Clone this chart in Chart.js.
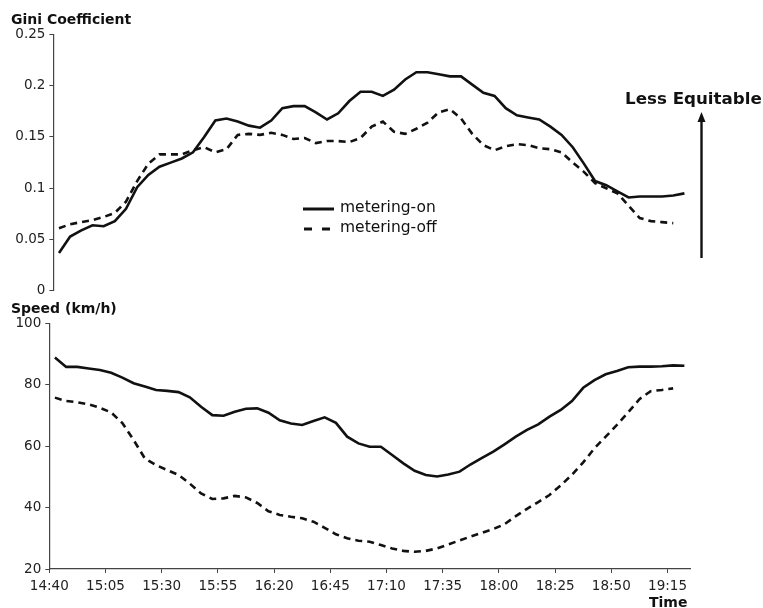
<!DOCTYPE html>
<html>
<head>
<meta charset="utf-8">
<script src="https://cdn.jsdelivr.net/npm/chart.js@4"></script>
<style>
  html, body { margin: 0; padding: 0; background: #fff; }
  body { position: relative; width: 763px; height: 608px; overflow: hidden; }
  canvas { position: absolute; left: 0; }
  .lbl { position: absolute; font-family: "DejaVu Sans", sans-serif; color: #111; line-height: 1; white-space: nowrap; }
  .b { font-weight: bold; }
</style>
</head>
<body>
<canvas id="giniChart" width="763" height="303" style="top:0"></canvas>
<canvas id="speedChart" width="763" height="308" style="top:300px"></canvas>

<div class="lbl b" style="left:11px;top:12px;font-size:14px">Gini Coefficient</div>
<div class="lbl b" style="left:11px;top:301px;font-size:14px">Speed (km/h)</div>
<div class="lbl b" style="left:649px;top:595px;font-size:14px">Time</div>
<div class="lbl b" style="left:625px;top:90px;font-size:16.7px">Less Equitable</div>
<div class="lbl" style="left:340px;top:200px;font-size:15.5px">metering-on</div>
<div class="lbl" style="left:340px;top:220px;font-size:15.5px">metering-off</div>

<script>
// x ticks every 25 min, 5-min samples (plotted at interval mid-points)
const tickLabels = ["14:40", "15:05", "15:30", "15:55", "16:20", "16:45", "17:10", "17:35", "18:00", "18:25", "18:50", "19:15"];

const giniOn = [0.037, 0.053, 0.059, 0.064, 0.063, 0.068, 0.080, 0.101, 0.113, 0.121,
    0.125, 0.129, 0.135, 0.150, 0.166, 0.168, 0.165, 0.161, 0.159, 0.166,
    0.178, 0.180, 0.180, 0.174, 0.167, 0.173, 0.185, 0.194, 0.194, 0.190,
    0.196, 0.206, 0.213, 0.213, 0.211, 0.209, 0.209, 0.201, 0.193, 0.190,
    0.178, 0.171, 0.169, 0.167, 0.160, 0.152, 0.140, 0.124, 0.107, 0.103,
    0.097, 0.091, 0.092, 0.092, 0.092, 0.093, 0.095];

const giniOff = [0.061, 0.065, 0.067, 0.069, 0.072, 0.076, 0.087, 0.107, 0.124, 0.133,
    0.133, 0.133, 0.137, 0.140, 0.135, 0.138, 0.152, 0.153, 0.152, 0.154,
    0.152, 0.148, 0.149, 0.144, 0.146, 0.146, 0.145, 0.149, 0.160, 0.165,
    0.155, 0.153, 0.158, 0.164, 0.174, 0.177, 0.168, 0.153, 0.142, 0.137,
    0.141, 0.143, 0.142, 0.139, 0.138, 0.135, 0.125, 0.116, 0.105, 0.100,
    0.095, 0.083, 0.071, 0.068, 0.067, 0.066];

const speedOn = [88.9, 85.8, 85.8, 85.3, 84.8, 83.9, 82.3, 80.5, 79.4, 78.3,
    78.0, 77.6, 75.9, 72.8, 70.1, 69.9, 71.2, 72.2, 72.3, 70.9,
    68.4, 67.4, 66.9, 68.2, 69.4, 67.6, 63.1, 60.9, 59.8, 59.8,
    57.1, 54.4, 52.0, 50.6, 50.1, 50.8, 51.7, 54.1, 56.2, 58.2,
    60.6, 63.1, 65.3, 67.1, 69.6, 71.8, 74.7, 79.0, 81.5, 83.4,
    84.5, 85.7, 85.9, 85.9, 86.0, 86.3, 86.2];

const speedOff = [75.8, 74.7, 74.3, 73.6, 72.5, 71.0, 67.5, 62.0, 56.0, 53.8,
    52.2, 50.6, 47.8, 44.6, 42.8, 43.0, 43.8, 43.3, 41.5, 38.8,
    37.6, 37.0, 36.5, 35.4, 33.4, 31.3, 30.0, 29.2, 28.9, 27.8,
    26.7, 25.9, 25.6, 25.9, 26.7, 28.0, 29.3, 30.6, 31.8, 33.0,
    34.6, 37.2, 39.6, 41.8, 44.1, 47.2, 50.7, 54.7, 59.3, 63.1,
    66.9, 71.0, 75.3, 77.9, 78.3, 78.8];

const START = 14 * 60 + 40;
const toMin = t => { const [h, m] = t.split(":").map(Number); return h * 60 + m - START; };
const toPoints = arr => arr.map((v, i) => ({ x: 2.5 + 5 * i, y: v }));

const ink = "#111";
const tickFont = { family: "DejaVu Sans", size: 13.5 };

function xScale(show) {
    return {
        type: "linear",
        min: 0,
        max: 285,
        display: show,
        afterBuildTicks: s => { s.ticks = tickLabels.map(t => ({ value: toMin(t) })); },
        afterFit: s => { s.height = show ? 30 : 0; },
        ticks: {
            color: "#222",
            font: tickFont,
            padding: 5,
            maxRotation: 0,
            autoSkip: false,
            callback: (v, i) => tickLabels[i],
        },
        grid: { drawOnChartArea: false, drawTicks: true, tickLength: 4, color: "#444" },
        border: { display: true, color: "#444", width: 1.2 },
    };
}

function yScale(min, max, step, width) {
    return {
        min: min,
        max: max,
        afterFit: s => { s.width = width; },
        ticks: {
            stepSize: step,
            color: "#222",
            font: tickFont,
            padding: 4,
            callback: v => String(+v.toFixed(2)),
        },
        grid: { drawOnChartArea: false, drawTicks: true, tickLength: 4, color: "#444" },
        border: { display: true, color: "#444", width: 1.2 },
    };
}

function lineSets(on, off) {
    return [
        { label: "metering-on", data: toPoints(on), borderColor: ink, borderWidth: 2.6 },
        { label: "metering-off", data: toPoints(off), borderColor: ink, borderWidth: 2.6, borderDash: [7, 5] },
    ];
}

const common = {
    responsive: false,
    animation: false,
    devicePixelRatio: 1,
    elements: { point: { radius: 0 }, line: { tension: 0 } },
    plugins: { legend: { display: false }, tooltip: { enabled: false } },
};

// legend samples + "Less Equitable" arrow drawn on the top canvas
const giniExtras = {
    id: "giniExtras",
    afterDraw(chart) {
        const ctx = chart.ctx;
        ctx.save();
        ctx.strokeStyle = ink;
        ctx.fillStyle = ink;
        ctx.lineWidth = 3;
        ctx.beginPath();
        ctx.moveTo(303, 209); ctx.lineTo(334, 209);
        ctx.moveTo(304, 229); ctx.lineTo(312, 229);
        ctx.moveTo(322, 229); ctx.lineTo(330, 229);
        ctx.stroke();

        ctx.lineWidth = 2.4;
        ctx.beginPath();
        ctx.moveTo(701.5, 258); ctx.lineTo(701.5, 120);
        ctx.stroke();
        ctx.beginPath();
        ctx.moveTo(701.5, 112); ctx.lineTo(697.5, 122); ctx.lineTo(705.5, 122);
        ctx.closePath();
        ctx.fill();
        ctx.restore();
    },
};

new Chart(document.getElementById("giniChart").getContext("2d"), {
    type: "line",
    data: { datasets: lineSets(giniOn, giniOff) },
    options: {
        ...common,
        layout: { padding: { left: 0, right: 73, top: 34.3, bottom: 8 } },
        scales: { x: xScale(false), y: yScale(0, 0.25, 0.05, 53.4) },
    },
    plugins: [giniExtras],
});

new Chart(document.getElementById("speedChart").getContext("2d"), {
    type: "line",
    data: { datasets: lineSets(speedOn, speedOff) },
    options: {
        ...common,
        layout: { padding: { left: 0, right: 73, top: 23.3, bottom: 9 } },
        scales: { x: xScale(true), y: yScale(20, 100, 20, 49.3) },
    },
});
</script>
</body>
</html>
